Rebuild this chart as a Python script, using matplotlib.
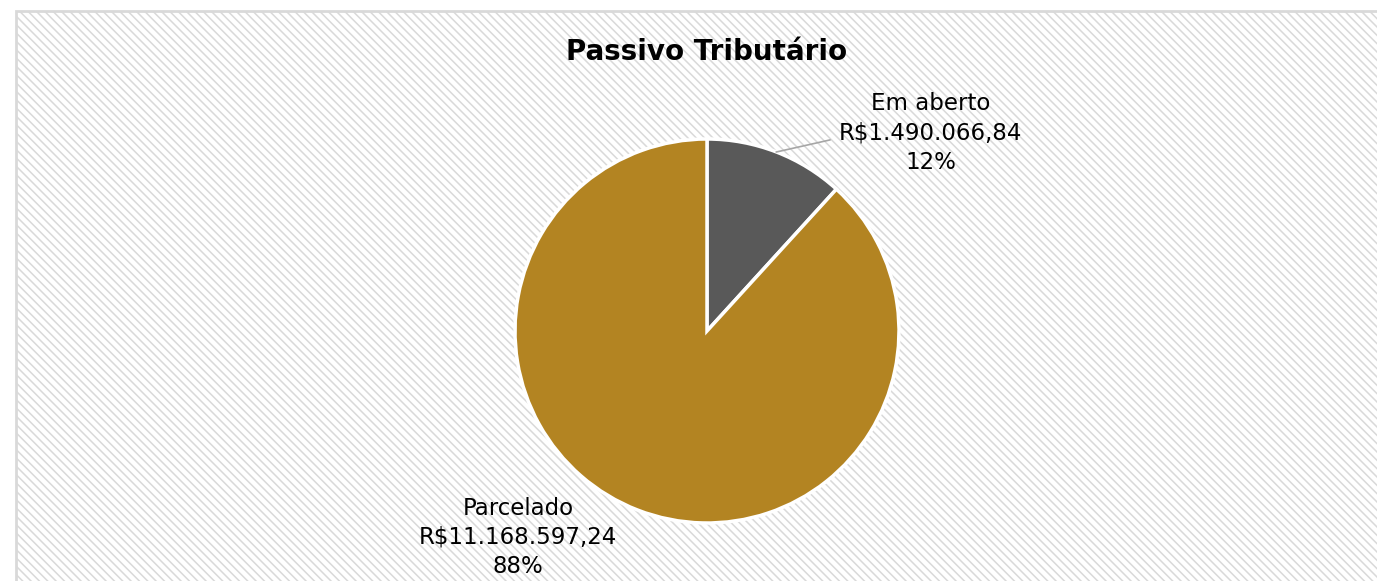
import numpy as np
import matplotlib
matplotlib.use("Agg")
import matplotlib.pyplot as plt
from matplotlib.patches import Rectangle

# dados
categorias = ["Em aberto", "Parcelado"]
valores = [1490066.84, 11168597.24]
cores = ["#595959", "#b38422"]
titulo = "Passivo Tributário"

# posição dos rótulos (coordenadas do gráfico de pizza, raio = 1)
pos_rotulos = [(1.165, 1.03), (-0.985, -1.075)]
linha_guia = [True, False]


def fmt_brl(v):
    s = f"{v:,.2f}"
    s = s.replace(",", "_").replace(".", ",").replace("_", ".")
    return "R$" + s


plt.rcParams['font.family'] = ['DejaVu Sans']
plt.rcParams['hatch.linewidth'] = 1.1
plt.rcParams['hatch.color'] = '#e6e6e6'

W, H = 1377, 581
fig = plt.figure(figsize=(W / 100, H / 100), dpi=100)
fig.patch.set_facecolor('white')

# fundo hachurado da área do gráfico
fundo = Rectangle((16 / W, -0.05), 1.1, (H - 11) / H + 0.05,
                  transform=fig.transFigure, facecolor='white',
                  edgecolor='#d9d9d9', linewidth=2, hatch='\\\\\\\\', zorder=0)
fig.add_artist(fundo)

# eixo ocupando a figura inteira, centro da pizza em (707, 331) px, raio 192 px
R = 192
cx, cy = 707, 331
ax = fig.add_axes([0, 0, 1, 1])
ax.patch.set_visible(False)

wedges, _ = ax.pie(valores, colors=cores, startangle=90, counterclock=False,
                   radius=1, wedgeprops=dict(edgecolor='white', linewidth=2.5))

ax.set_xlim(-cx / R, (W - cx) / R)
ax.set_ylim(-(H - cy) / R, cy / R)
ax.set_aspect('equal', adjustable='datalim')
ax.axis('off')

total = sum(valores)
for w, nome, v, (lx, ly), guia in zip(wedges, categorias, valores, pos_rotulos, linha_guia):
    pct = v / total * 100
    txt = f"{nome}\n{fmt_brl(v)}\n{pct:.0f}%"
    ax.text(lx, ly, txt, ha='center', va='center', fontsize=16.5,
            linespacing=1.35, color='black')
    if guia:
        ang = np.deg2rad((w.theta1 + w.theta2) / 2)
        x0, y0 = np.cos(ang), np.sin(ang)
        ax.plot([x0, 0.64], [y0, 0.995], color='#a6a6a6', lw=1.2)

fig.text(cx / W, 1 - 52 / H, titulo, ha='center', va='center',
         fontsize=20, fontweight='bold')

fig.savefig("out.png", dpi=100)
